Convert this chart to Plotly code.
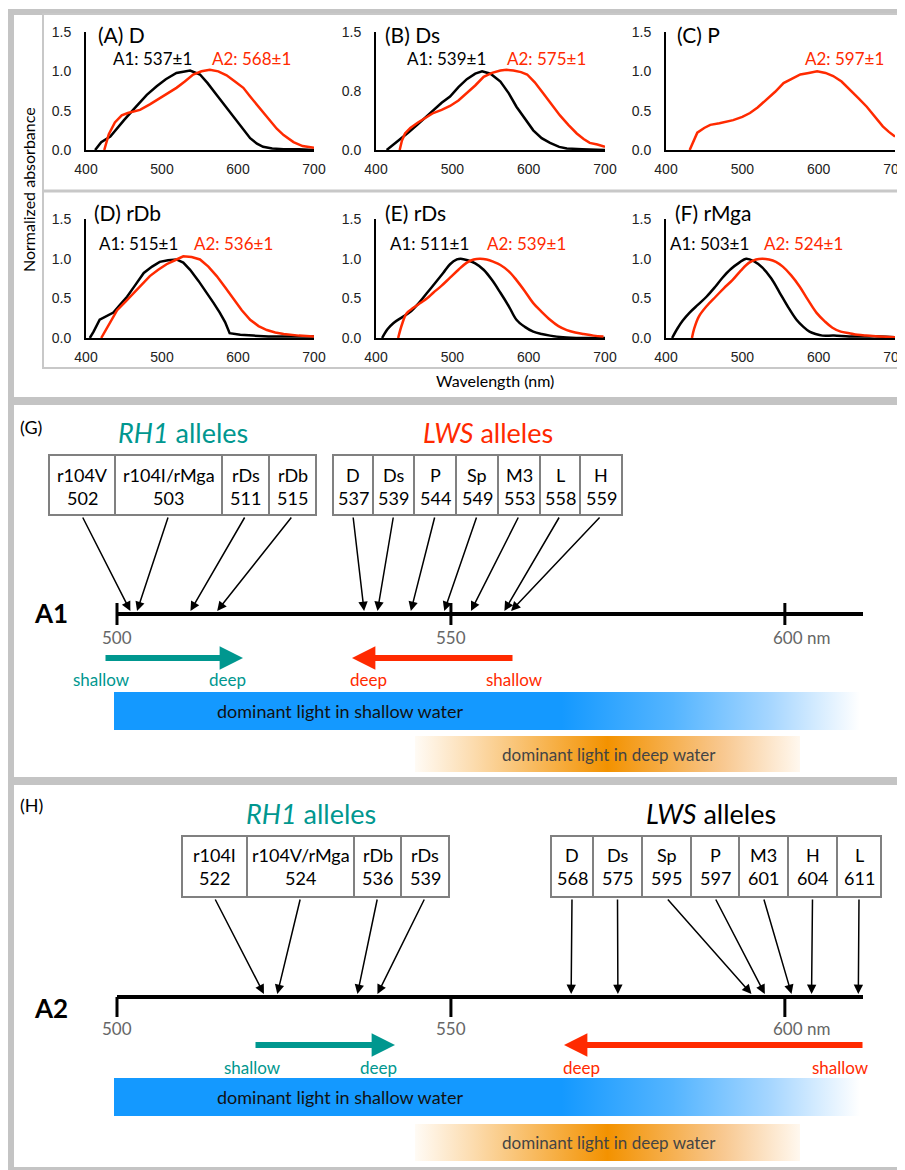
import plotly.graph_objects as go

W, H = 905, 1170
OFF = 8  # the page places the figure 8 px from the top-left corner
RED = '#ff2a00'
TEAL = '#00978f'
GILL = 'Lato, "Open Sans", sans-serif'
HELV = '"Liberation Sans", Arial, sans-serif'

# ---------------- spectra data (wavelength nm, normalized absorbance) ----------------
A_a1_wl = [412, 420, 432, 440, 450, 462, 470, 480, 493, 505, 519, 530, 537, 550, 560, 572, 583, 594, 605, 616, 625, 633, 645, 660, 680, 700]
A_a1_ab = [0.0, 0.1, 0.17, 0.27, 0.38, 0.51, 0.6, 0.7, 0.81, 0.9, 0.98, 1.0, 1.01, 0.96, 0.85, 0.7, 0.56, 0.42, 0.28, 0.15, 0.08, 0.04, 0.02, 0.01, 0.01, 0.0]
A_a2_wl = [424, 430, 438, 447, 455, 463, 471, 484, 497, 508, 519, 530, 541, 552, 563, 574, 585, 596, 607, 616, 627, 638, 651, 660, 673, 685, 700]
A_a2_ab = [0.0, 0.2, 0.35, 0.44, 0.47, 0.49, 0.51, 0.58, 0.66, 0.73, 0.79, 0.87, 0.96, 1.0, 1.02, 1.0, 0.95, 0.87, 0.79, 0.68, 0.55, 0.42, 0.27, 0.19, 0.1, 0.05, 0.03]

B_a1_wl = [414, 422, 431, 442, 454, 465, 475, 486, 497, 508, 519, 530, 539, 550, 563, 574, 584, 595, 606, 617, 628, 640, 650, 670, 700]
B_a1_ab = [0.0, 0.06, 0.13, 0.22, 0.32, 0.42, 0.51, 0.6, 0.68, 0.8, 0.9, 0.97, 1.0, 0.97, 0.87, 0.72, 0.55, 0.4, 0.25, 0.15, 0.09, 0.04, 0.02, 0.01, 0.0]
B_a2_wl = [431, 434, 438, 445, 455, 465, 475, 486, 497, 508, 519, 530, 541, 552, 563, 571, 580, 590, 598, 608, 619, 630, 641, 652, 663, 672, 680, 690, 697, 700]
B_a2_ab = [0.0, 0.12, 0.21, 0.28, 0.35, 0.41, 0.47, 0.51, 0.56, 0.63, 0.72, 0.82, 0.93, 0.98, 1.01, 1.02, 1.01, 0.99, 0.96, 0.86, 0.72, 0.58, 0.44, 0.32, 0.21, 0.14, 0.09, 0.07, 0.05, 0.04]

C_a2_wl = [431, 436, 441, 450, 458, 470, 480, 488, 500, 510, 520, 532, 543, 554, 565, 576, 587, 598, 609, 619, 630, 641, 652, 663, 674, 684, 692, 700]
C_a2_ab = [0.0, 0.12, 0.22, 0.28, 0.32, 0.34, 0.36, 0.38, 0.42, 0.47, 0.54, 0.64, 0.74, 0.85, 0.91, 0.96, 0.98, 1.0, 0.98, 0.94, 0.87, 0.77, 0.66, 0.55, 0.42, 0.3, 0.23, 0.17]

D_a1_wl = [405, 410, 418, 427, 436, 445, 454, 465, 476, 487, 497, 508, 519, 528, 537, 548, 559, 568, 576, 583, 589, 596, 603, 620, 640, 660, 680, 700]
D_a1_ab = [0.0, 0.08, 0.23, 0.28, 0.32, 0.42, 0.52, 0.67, 0.82, 0.9, 0.96, 0.98, 0.99, 0.95, 0.86, 0.72, 0.57, 0.44, 0.32, 0.2, 0.06, 0.05, 0.04, 0.03, 0.02, 0.02, 0.02, 0.02]
D_a2_wl = [420, 430, 441, 452, 463, 474, 484, 495, 506, 517, 528, 539, 550, 561, 572, 583, 594, 605, 616, 627, 638, 649, 660, 680, 700]
D_a2_ab = [0.0, 0.17, 0.35, 0.46, 0.57, 0.68, 0.78, 0.86, 0.93, 0.98, 1.03, 1.02, 0.99, 0.9, 0.78, 0.64, 0.49, 0.35, 0.23, 0.15, 0.1, 0.07, 0.05, 0.03, 0.02]

E_a1_wl = [408, 415, 423, 434, 445, 456, 467, 478, 488, 497, 506, 511, 520, 530, 541, 552, 563, 574, 584, 595, 606, 617, 628, 645, 670, 700]
E_a1_ab = [0.0, 0.11, 0.19, 0.26, 0.33, 0.44, 0.57, 0.7, 0.82, 0.93, 0.99, 1.0, 0.98, 0.94, 0.86, 0.73, 0.57, 0.4, 0.23, 0.14, 0.08, 0.05, 0.03, 0.01, 0.0, 0.0]
E_a2_wl = [429, 434, 440, 449, 458, 467, 475, 486, 497, 508, 519, 528, 536, 545, 554, 563, 574, 584, 595, 606, 617, 628, 639, 650, 661, 672, 685, 698]
E_a2_ab = [0.0, 0.17, 0.31, 0.38, 0.44, 0.5, 0.57, 0.66, 0.76, 0.86, 0.95, 0.99, 1.0, 0.99, 0.96, 0.92, 0.84, 0.73, 0.59, 0.44, 0.33, 0.23, 0.15, 0.1, 0.07, 0.05, 0.03, 0.02]

F_a1_wl = [408, 415, 422, 431, 442, 453, 464, 474, 485, 496, 505, 515, 526, 538, 549, 560, 571, 580, 588, 596, 605, 620, 640, 660, 680, 700]
F_a1_ab = [0.0, 0.12, 0.22, 0.32, 0.42, 0.52, 0.64, 0.76, 0.87, 0.95, 1.0, 0.97, 0.89, 0.75, 0.57, 0.39, 0.23, 0.14, 0.08, 0.05, 0.03, 0.03, 0.02, 0.02, 0.02, 0.01]
F_a2_wl = [434, 437, 443, 454, 465, 476, 487, 498, 509, 518, 526, 535, 544, 553, 564, 575, 586, 597, 608, 618, 629, 640, 651, 662, 680, 700]
F_a2_ab = [0.0, 0.12, 0.27, 0.41, 0.52, 0.63, 0.73, 0.85, 0.95, 0.99, 1.0, 0.99, 0.96, 0.9, 0.79, 0.65, 0.48, 0.32, 0.21, 0.13, 0.08, 0.06, 0.04, 0.03, 0.02, 0.01]

panel_letters = ['A', 'B', 'C', 'D', 'E', 'F']
panel_names = ['D', 'Ds', 'P', 'rDb', 'rDs', 'rMga']
a1_peaks = [537, 539, None, 515, 511, 503]
a2_peaks = [568, 575, 597, 536, 539, 524]

# ---------------- allele data ----------------
G_rh1_names = ['r104V', 'r104I/rMga', 'rDs', 'rDb']
G_rh1_vals = [502, 503, 511, 515]
G_lws_names = ['D', 'Ds', 'P', 'Sp', 'M3', 'L', 'H']
G_lws_vals = [537, 539, 544, 549, 553, 558, 559]
H_rh1_names = ['r104I', 'r104V/rMga', 'rDb', 'rDs']
H_rh1_vals = [522, 524, 536, 539]
H_lws_names = ['D', 'Ds', 'Sp', 'P', 'M3', 'H', 'L']
H_lws_vals = [568, 575, 595, 597, 601, 604, 611]
scale_ticks = [500, 550, 600]
scale_labels = ['500', '550', '600 nm']

fig = go.Figure()

# ---------------- layout geometry (screen pixels) ----------------
col_x = [(86, 314), (376, 605), (666, 895)]
row_y = [(32, 150), (219, 338)]
curves = [
    [(A_a1_wl, A_a1_ab, 'black'), (A_a2_wl, A_a2_ab, RED)],
    [(B_a1_wl, B_a1_ab, 'black'), (B_a2_wl, B_a2_ab, RED)],
    [(C_a2_wl, C_a2_ab, RED)],
    [(D_a1_wl, D_a1_ab, 'black'), (D_a2_wl, D_a2_ab, RED)],
    [(E_a1_wl, E_a1_ab, 'black'), (E_a2_wl, E_a2_ab, RED)],
    [(F_a1_wl, F_a1_ab, 'black'), (F_a2_wl, F_a2_ab, RED)],
]
smooth = [False, False, False, False, True, True]
label_pos = [  # (x of A1 label, x of A2 label, title x)
    (111, 210, 96), (405, 505, 383), (None, 803, 675),
    (97, 192, 92), (388, 485, 383), (668, 762, 673),
]

layout_axes = {}
for i in range(6):
    r, c = divmod(i, 3)
    n = '' if i == 0 else str(i + 1)
    x0, x1 = col_x[c]
    ytop, ybot = row_y[r]
    for wl, ab, col in curves[i]:
        fig.add_trace(go.Scatter(x=wl, y=ab, mode='lines', xaxis='x' + n, yaxis='y' + n,
                                 line=dict(color=col, width=2.5, shape='spline' if smooth[i] else 'linear'),
                                 hoverinfo='skip', showlegend=False))
    if i == 1:
        ytv, ytt = [0, 0.75, 1.5], ['0.0', '0.8', '1.5']
    else:
        ytv, ytt = [0, 0.5, 1.0, 1.5], ['0.0', '0.5', '1.0', '1.5']
    layout_axes['xaxis' + n] = dict(domain=[(x0 - OFF) / W, (x1 - OFF) / W], range=[400, 700], anchor='y' + n,
                                    showline=True, linecolor='black', linewidth=2, showgrid=False,
                                    zeroline=False, tickvals=[400, 500, 600, 700], ticks='outside',
                                    ticklen=5, tickcolor='rgba(0,0,0,0)', automargin=False,
                                    tickfont=dict(family=HELV, size=14, color='#222'), fixedrange=True)
    layout_axes['yaxis' + n] = dict(domain=[1 - (ybot - OFF) / H, 1 - (ytop - OFF) / H], range=[0, 1.5],
                                    anchor='x' + n,
                                    showline=True, linecolor='black', linewidth=2, showgrid=False,
                                    zeroline=False, tickvals=ytv, ticktext=ytt, ticks='outside',
                                    ticklen=10, tickcolor='rgba(0,0,0,0)', automargin=False,
                                    tickfont=dict(family=HELV, size=14, color='#222'), fixedrange=True)

# overlay axes: x9/y9 in screen pixels, x7 in nm for the scale diagrams
K = (863 - 117) / 111.7  # px per nm on the A1/A2 scale


def px2nm(px):
    return 500 + (px - 117) / K


layout_axes['xaxis9'] = dict(domain=[0, 1], range=[OFF, W + OFF], visible=False, anchor='y9',
                             fixedrange=True, automargin=False)
layout_axes['yaxis9'] = dict(domain=[0, 1], range=[H + OFF, OFF], visible=False, anchor='x9',
                             fixedrange=True, automargin=False)
layout_axes['xaxis7'] = dict(domain=[0, 1], range=[px2nm(OFF), px2nm(W + OFF)], visible=False,
                             anchor='y9', fixedrange=True, automargin=False)

fig.add_trace(go.Scatter(x=[OFF + 1], y=[OFF + 1], xaxis='x9', yaxis='y9', mode='markers',
                         marker=dict(opacity=0), hoverinfo='skip', showlegend=False))

shapes = []
ann = []


def rect(x0, y0, x1, y1, fill, line_color=None, lw=0):
    shapes.append(dict(type='rect', xref='x9', yref='y9', x0=x0, x1=x1, y0=y0, y1=y1,
                       fillcolor=fill, line=dict(color=line_color or fill, width=lw), layer='above'))


def text(x, y, s, size=17, color='black', xanchor='center', family=GILL, xref='x9', xshift=0):
    ann.append(dict(xref=xref, yref='y9', x=x, y=y, text=s, showarrow=False, xanchor=xanchor,
                    yanchor='middle', xshift=xshift, font=dict(family=family, size=size, color=color)))


# ---------------- frame ----------------
BAND = '#c4c4c4'
rect(7, 9, 14, H + 4, BAND)
rect(7, 9, W + 6, 15, BAND)
rect(7, 397, W + 6, 405, BAND)
rect(7, 777, W + 6, 785, BAND)
rect(7, 1167, W + 6, H + 6, BAND)
shapes.append(dict(type='rect', xref='x9', yref='y9', x0=43, x1=W + 5, y0=14, y1=368,
                   line=dict(color='#c8c8c8', width=2), fillcolor='rgba(0,0,0,0)'))
shapes.append(dict(type='line', xref='x9', yref='y9', x0=43, x1=W + 6, y0=191, y1=191,
                   line=dict(color='#c8c8c8', width=3)))

# ---------------- spectra annotations ----------------
for i in range(6):
    r = i // 3
    yl = 58 if r == 0 else 243
    yt = 34 if r == 0 else 212
    xa1, xa2, xt = label_pos[i]
    text(xt, yt, '(%s) %s' % (panel_letters[i], panel_names[i]), size=21, xanchor='left')
    if a1_peaks[i] is not None:
        text(xa1, yl, 'A1: %d±1' % a1_peaks[i], size=17, xanchor='left')
    text(xa2, yl, 'A2: %d±1' % a2_peaks[i], size=17, color=RED, xanchor='left')

ann.append(dict(xref='x9', yref='y9', x=28, y=190, text='Normalized absorbance', showarrow=False,
                textangle=-90, font=dict(family=GILL, size=16, color='black')))
text(495, 380, 'Wavelength (nm)', size=16)


# ---------------- scale diagrams ----------------
def diagram(label, letter, y_head, y_line, ticks_both, rh1, lws, rh1_edges, lws_edges, box_y,
            lws_color, arrows, tick_lab_y, bar_y, bar2_y):
    text(18, y_head - 5, '(%s)' % letter, size=18, xanchor='left')
    text(*rh1['head'], '<i>RH1</i> alleles', size=27, color=TEAL)
    text(*lws['head'], '<i>LWS</i> alleles', size=27, color=lws_color)
    # axis line and ticks
    shapes.append(dict(type='line', xref='x7', yref='y9', x0=500, x1=px2nm(863), y0=y_line, y1=y_line,
                       line=dict(color='black', width=4)))
    for t, tl in zip(scale_ticks, scale_labels):
        shapes.append(dict(type='line', xref='x7', yref='y9', x0=t, x1=t,
                           y0=y_line - 11 if ticks_both else y_line, y1=y_line + 11 if ticks_both else y_line + 20,
                           line=dict(color='black', width=3)))
        if tl.endswith('nm'):
            ann.append(dict(xref='x7', yref='y9', x=t, y=tick_lab_y, text=tl, showarrow=False,
                            xanchor='left', xshift=-14, font=dict(family=GILL, size=17, color='#666')))
        else:
            ann.append(dict(xref='x7', yref='y9', x=t, y=tick_lab_y, text=tl, showarrow=False,
                            font=dict(family=GILL, size=17, color='#666')))
    text(51, y_line - 1 if ticks_both else y_line + 11, '<b>%s</b>' % label, size=26, family='Lato, sans-serif')
    # boxes and arrows
    yb0, yb1, yt1, yt2 = box_y
    tip_y = y_line - 3
    for names, vals, edges in ((rh1['names'], rh1['vals'], rh1_edges), (lws['names'], lws['vals'], lws_edges)):
        for k, (nm, v) in enumerate(zip(names, vals)):
            xa, xb = edges[k], edges[k + 1]
            shapes.append(dict(type='rect', xref='x9', yref='y9', x0=xa, x1=xb, y0=yb0, y1=yb1,
                               line=dict(color='#808080', width=2), fillcolor='white'))
            cx = (xa + xb) / 2
            text(cx, yt1, nm, size=18)
            text(cx, yt2, str(v), size=18)
            ann.append(dict(xref='x7', yref='y9', axref='x7', ayref='y9', x=v, y=tip_y,
                            ax=px2nm(cx), ay=yb1 + 1, text='', showarrow=True, arrowhead=2,
                            arrowsize=1.25, arrowwidth=1.5, arrowcolor='black', standoff=0))
    # depth arrows
    for (xtail, xtip, y, col, ltail, ltip, ylab) in arrows:
        ann.append(dict(xref='x9', yref='y9', axref='x9', ayref='y9', x=xtip, y=y, ax=xtail, ay=y,
                        text='', showarrow=True, arrowhead=2, arrowsize=0.78, arrowwidth=6,
                        arrowcolor=col, standoff=0))
        text(ltail[0], ylab, ltail[1], size=17, color=col)
        text(ltip[0], ylab, ltip[1], size=17, color=col)
    # light bars
    by0, by1 = bar_y
    fig.add_trace(go.Scatter(x=[px2nm(114), px2nm(860), px2nm(860), px2nm(114), px2nm(114)],
                             y=[by0, by0, by1, by1, by0], xaxis='x7', yaxis='y9', mode='lines',
                             fill='toself', line=dict(width=0, color='rgba(0,0,0,0)'),
                             fillgradient=dict(type='horizontal',
                                               colorscale=[[0, '#1499ff'], [0.6, '#1499ff'], [0.75, '#55b5ff'],
                                                           [0.88, '#a6d6ff'], [1, '#ffffff']]),
                             hoverinfo='skip', showlegend=False))
    text(340, (by0 + by1) / 2, 'dominant light in shallow water', size=18, color='#111')
    cy0, cy1 = bar2_y
    fig.add_trace(go.Scatter(x=[px2nm(415), px2nm(800), px2nm(800), px2nm(415), px2nm(415)],
                             y=[cy0, cy0, cy1, cy1, cy0], xaxis='x7', yaxis='y9', mode='lines',
                             fill='toself', line=dict(width=0, color='rgba(0,0,0,0)'),
                             fillgradient=dict(type='horizontal',
                                               colorscale=[[0, '#fffbf5'], [0.15, '#fcdcaf'], [0.5, '#f39200'],
                                                           [0.8, '#f8c890'], [1, '#fff8ef']]),
                             hoverinfo='skip', showlegend=False))
    text(609, (cy0 + cy1) / 2, 'dominant light in deep water', size=17, color='#444')


diagram('A1', 'G', 432, 614, True,
        dict(names=G_rh1_names, vals=G_rh1_vals, head=(183, 432)),
        dict(names=G_lws_names, vals=G_lws_vals, head=(488, 432)),
        [49, 115, 222, 269, 316], [333, 373, 414, 456, 498, 540, 580, 622],
        (455, 515, 475, 498), RED,
        [(104, 243, 658, TEAL, (101, 'shallow'), (227, 'deep'), 679),
         (514, 352, 658, RED, (514, 'shallow'), (368, 'deep'), 679)],
        637, (692, 730), (736, 772))

diagram('A2', 'H', 810, 997, False,
        dict(names=H_rh1_names, vals=H_rh1_vals, head=(311, 813)),
        dict(names=H_lws_names, vals=H_lws_vals, head=(711, 813)),
        [182, 247, 354, 401, 449], [551, 593, 642, 691, 739, 788, 837, 881],
        (836, 897, 855, 878), 'black',
        [(254, 395, 1045, TEAL, (252, 'shallow'), (378, 'deep'), 1067),
         (864, 564, 1045, RED, (840, 'shallow'), (581, 'deep'), 1067)],
        1028, (1078, 1116), (1124, 1161))

fig.update_layout(width=W, height=H, margin=dict(l=0, r=0, t=0, b=0, pad=0, autoexpand=False),
                  paper_bgcolor='white', plot_bgcolor='rgba(0,0,0,0)', showlegend=False,
                  shapes=shapes, annotations=ann, **layout_axes)

fig.write_html('out.html')
